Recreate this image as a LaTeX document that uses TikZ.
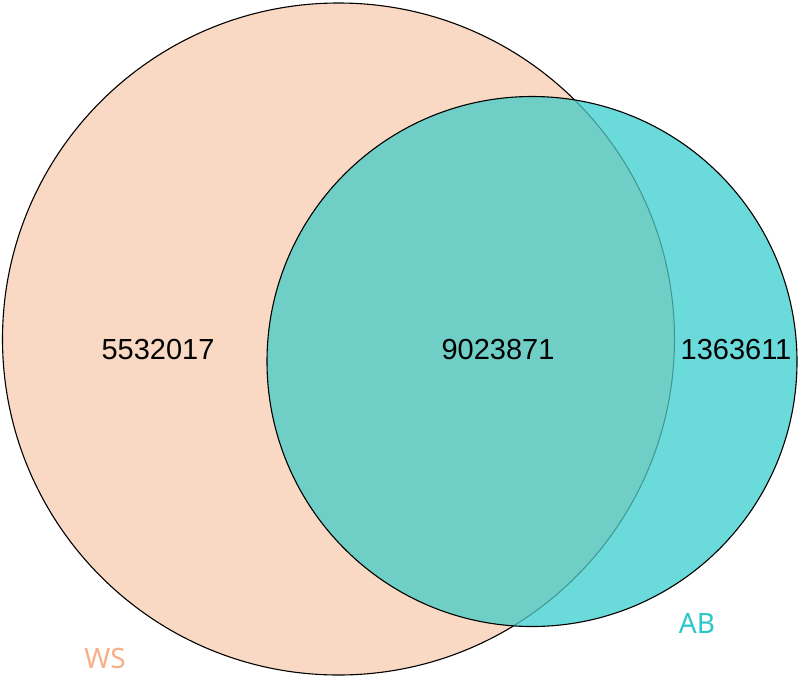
\documentclass[tikz,border=0pt]{standalone}
\usepackage{fontspec}
\setmainfont{Liberation Sans}
\newfontfamily\labelfont{Noto Sans}
\definecolor{wsfill}{RGB}{249,217,195}
\definecolor{abfill}{RGB}{107,218,218}
\definecolor{overlap}{RGB}{111,207,199}
\definecolor{wsinner}{RGB}{62,150,146}
\definecolor{wslabel}{RGB}{245,176,138}
\definecolor{ablabel}{RGB}{44,197,200}
\tikzset{
  count/.style={font=\fontsize{29}{31}\selectfont, text=black, inner sep=0pt},
  setlabel/.style={font=\labelfont\fontsize{28}{30}\selectfont, inner sep=0pt},
  outline/.style={line width=1.1pt}
}
\begin{document}
\begin{tikzpicture}[x=1pt,y=-1pt]
\useasboundingbox (0,0) rectangle (800,678);
\coordinate (ws) at (338.5,339);
\coordinate (ab) at (532,361.5);
% WS circle
\fill[wsfill] (ws) circle[radius=336];
\draw[outline, black] (ws) circle[radius=336];
% AB circle
\fill[abfill] (ab) circle[radius=265];
% overlap
\begin{scope}
  \clip (ab) circle[radius=265];
  \fill[overlap] (ws) circle[radius=336];
  \draw[line width=1pt, wsinner] (ws) circle[radius=336];
\end{scope}
\draw[outline, black] (ab) circle[radius=265];
% labels
\node[count] (n1) at (158,350) {5532017};
\node[count] (n2) at (498,350) {9023871};
\node[count] (n3) at (736,350) {1363611};
\node[setlabel, text=wslabel] (wsl) at (105,658) {WS};
\node[setlabel, text=ablabel] (abl) at (697,623) {AB};
\end{tikzpicture}
\end{document}
